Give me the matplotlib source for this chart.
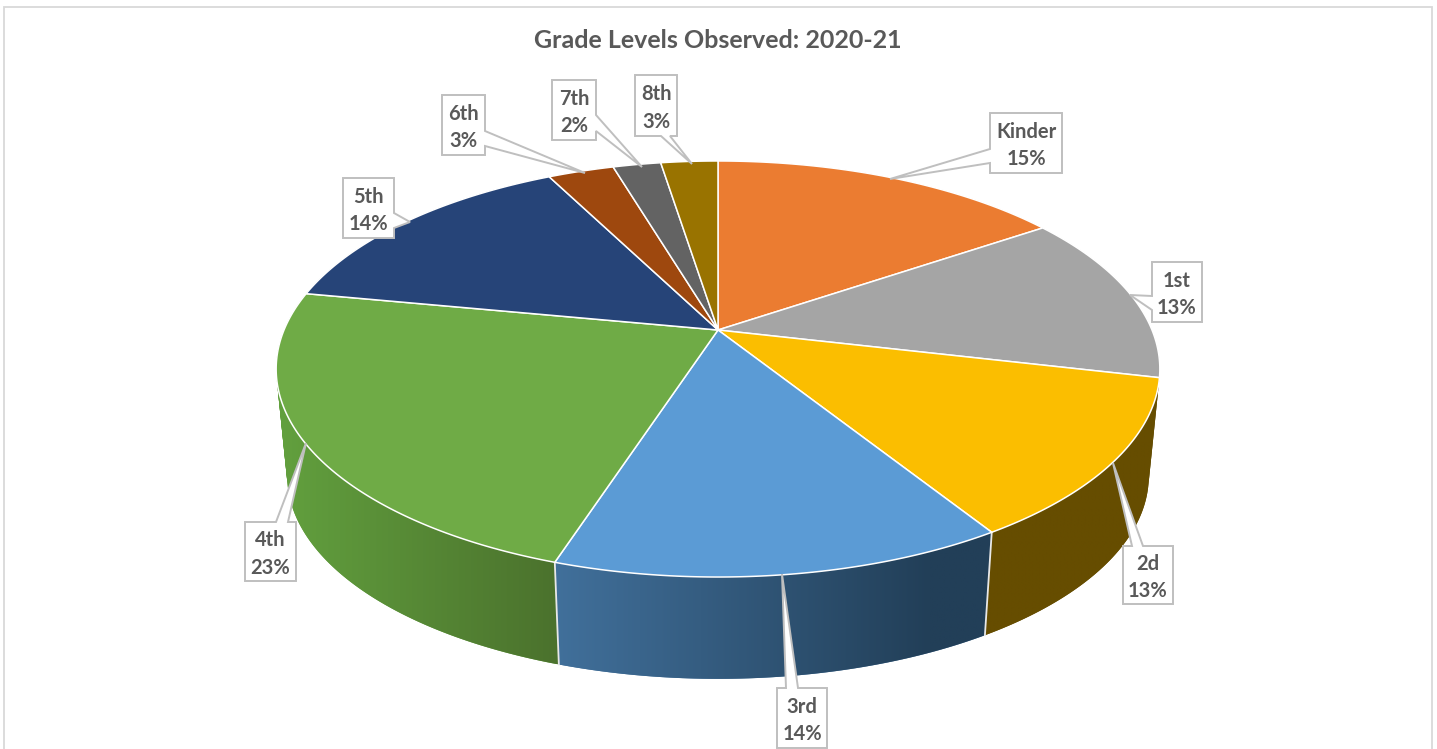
import numpy as np
import matplotlib
matplotlib.use("Agg")
import matplotlib.pyplot as plt
from matplotlib.colors import to_rgb
from matplotlib.patches import PathPatch, Polygon, Rectangle
from matplotlib.path import Path

# grade levels, clockwise from 12 o'clock
grades = ["Kinder", "1st", "2d", "3rd", "4th", "5th", "6th", "7th", "8th"]
shares = [15.5, 13.15, 12.45, 13.9, 23.0, 14.5, 2.9, 2.1, 2.5]
pct_labels = ["15%", "13%", "13%", "14%", "23%", "14%", "3%", "2%", "3%"]
title = "Grade Levels Observed: 2020-21"

top_colors = ["#EB7C31", "#A5A5A5", "#FBBE00", "#5B9BD5", "#6FAB46",
              "#264478", "#9E480E", "#636363", "#997300"]
# side wall shading, (x, colour) stops
wall_stops = {
    "2d": [(980, "#664D00"), (1160, "#664D00")],
    "3rd": [(555, "#41709B"), (930, "#223F58")],
    "4th": [(280, "#62A03E"), (555, "#4B722D")],
}

# callouts: box (left, top, right, bottom), tip, side the pointer leaves from, pointer base
boxes = [(990, 113, 1062, 173), (1152, 262, 1202, 322), (1123, 546, 1173, 604),
         (777, 688, 827, 748), (245, 522, 296, 581), (343, 178, 394, 238),
         (442, 95, 485, 155), (552, 80, 596, 140), (635, 75, 677, 136)]
tips = [(890, 179), (1130, 295), (1113, 463), (782, 574), (306, 443),
        (410, 222), (585, 173), (642, 167), (692, 164)]
sides = ["left", "left", "top", "top", "top", "right", "right", "right", "bottom"]
bases = [(149, 163), (296, 310), (1132, 1143), (786, 798), (276, 288),
         (213, 228), (131, 146), (115, 131), (661, 670)]

# pie plane in perspective
cx, cy = 718, 330
k = 0.1875
ax_x, ax_y = 434, 200.7
shrink, drop = 0.975, 108


def top_xy(theta):
    w = 1 + k * np.cos(theta)
    return cx + ax_x * np.sin(theta) / w, cy - ax_y * np.cos(theta) / w


def bottom_xy(theta):
    x, y = top_xy(theta)
    return cx + shrink * (x - cx), cy + drop + shrink * (y - cy)


def wall_path(xt, yt, xb, yb):
    # one quad per arc step, all wound the same way so they add up where the wall folds
    quads = []
    for j in range(len(xt) - 1):
        q = np.array([(xt[j], yt[j]), (xt[j + 1], yt[j + 1]), (xb[j + 1], yb[j + 1]), (xb[j], yb[j])])
        area = np.sum(q[:, 0] * np.roll(q[:, 1], -1) - np.roll(q[:, 0], -1) * q[:, 1])
        if area < 0:
            q = q[::-1]
        quads.append(Path(np.vstack([q, q[0]]), closed=True))
    return Path.make_compound_path(*quads)


def callout(box, tip, side, base):
    x0, y0, x1, y1 = box
    if side == "left":
        return [(x0, y0), (x1, y0), (x1, y1), (x0, y1), (x0, base[1]), tip, (x0, base[0])]
    if side == "right":
        return [(x0, y0), (x1, y0), (x1, base[0]), tip, (x1, base[1]), (x1, y1), (x0, y1)]
    if side == "top":
        return [(x0, y0), (base[0], y0), tip, (base[1], y0), (x1, y0), (x1, y1), (x0, y1)]
    return [(x0, y0), (x1, y0), (x1, y1), (base[1], y1), tip, (base[0], y1), (x0, y1)]


plt.rcParams["font.family"] = ["Lato", "DejaVu Sans"]
fig = plt.figure(figsize=(14.37, 7.49), dpi=100)
ax = fig.add_axes([0, 0, 1, 1])
ax.axis("off")

ax.add_patch(Rectangle((4, 7), 1428, 760, fc="white", ec="#D9D9D9", lw=1.3, zorder=0))

edges = np.deg2rad(np.cumsum([0] + shares) * 3.6)

for i, grade in enumerate(grades):
    th = np.linspace(edges[i], edges[i + 1], max(int(shares[i] * 8), 4))
    xt, yt = top_xy(th)
    xb, yb = bottom_xy(th)

    # side wall, gradient image clipped to the wall outline
    base_col = wall_stops[grade][0][1] if grade in wall_stops else top_colors[i]
    outline = PathPatch(wall_path(xt, yt, xb, yb), fc=base_col, ec="none", zorder=1)
    ax.add_patch(outline)
    if grade in wall_stops:
        stops = wall_stops[grade]
        sx = [s[0] for s in stops]
        rgb = np.array([to_rgb(s[1]) for s in stops])
        x0, x1 = min(xt.min(), xb.min()), max(xt.max(), xb.max())
        gx = np.linspace(x0, x1, 400)
        grad = np.stack([np.interp(gx, sx, rgb[:, c]) for c in range(3)], axis=-1)[None, :, :]
        y0, y1 = min(yt.min(), yb.min()), max(yt.max(), yb.max())
        im = ax.imshow(grad, extent=(x0, x1, y1, y0), aspect="auto", zorder=1.5, interpolation="bilinear")
        im.set_clip_path(outline)

    # top face
    pts = [(cx, cy)] + list(zip(xt, yt))
    ax.add_patch(Polygon(pts, closed=True, fc=top_colors[i], ec="white", lw=1.1, joinstyle="round", zorder=3))

# seams on the front of the wall
for e in edges[3:5]:
    xa, ya = top_xy(e)
    xc, yc = bottom_xy(e)
    ax.plot([xa, xc], [ya, yc], color="#E8E8E8", lw=1.3, zorder=2)

for i, grade in enumerate(grades):
    ax.add_patch(Polygon(callout(boxes[i], tips[i], sides[i], bases[i]), closed=True,
                         fc="white", ec="#BFBFBF", lw=1.4, zorder=5))
    x0, y0, x1, y1 = boxes[i]
    ax.text((x0 + x1) / 2, (y0 + y1) / 2 + 2.5, grade + "\n" + pct_labels[i], ha="center", va="center",
            fontsize=14.5, fontweight="bold", color="#595959", linespacing=1.45, zorder=6)

ax.text(718, 41, title, ha="center", va="center", fontsize=18, fontweight="bold", color="#595959")

ax.set_xlim(0, 1437)
ax.set_ylim(749, 0)
fig.savefig("out.png", dpi=100)
